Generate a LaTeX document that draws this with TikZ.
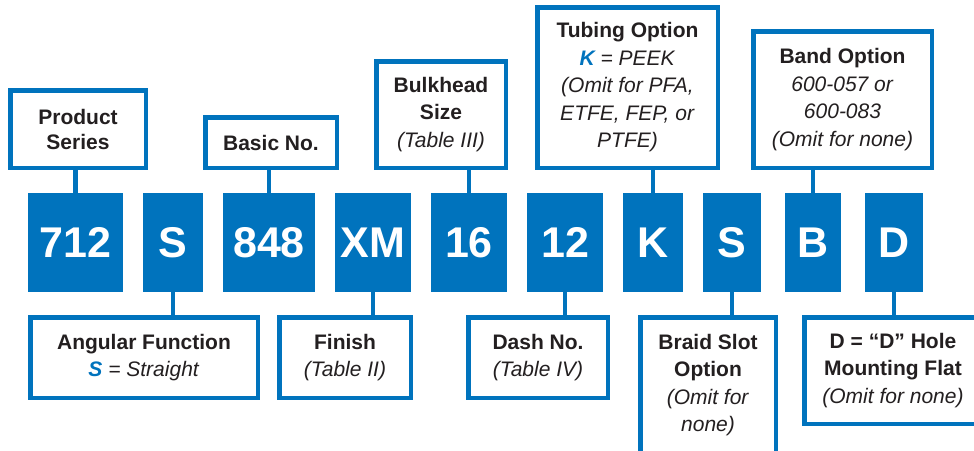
\documentclass[tikz,border=0pt]{standalone}
\usepackage{fontspec}
\setmainfont{Liberation Sans}
\usepackage{tikz}
\usetikzlibrary{positioning,calc}
\definecolor{codeblue}{HTML}{0073BD}
\definecolor{ink}{HTML}{231F20}
\newcommand{\keyletter}[1]{\textcolor{codeblue}{\bfseries\itshape #1}}

\begin{document}
\begin{tikzpicture}[
  x=1pt, y=-1pt,
  codebox/.style={
    fill=codeblue,
    text=white,
    inner sep=0pt,
    outer sep=0pt,
    minimum height=99pt,
    font=\fontsize{43}{43}\selectfont\bfseries,
  },
  labelbox/.style={
    draw=codeblue,
    line width=4.5pt,
    fill=white,
    text=ink,
    align=center,
    inner sep=0pt,
    font=\fontsize{21}{27.5}\selectfont,
  },
  link/.style={draw=codeblue, line width=4.5pt}]
  \useasboundingbox (0,0) rectangle (974,450);
  \clip (0,0) rectangle (974,450);
  % part number boxes
  \node[codebox, minimum width=95pt] (c712) at (75.5,242.5) {712};
  \node[codebox, minimum width=60pt] (cang) at (173,242.5) {S};
  \node[codebox, minimum width=92pt] (c848) at (269,242.5) {848};
  \node[codebox, minimum width=76pt] (cfin) at (373,242.5) {XM};
  \node[codebox, minimum width=76pt] (cbul) at (469,242.5) {16};
  \node[codebox, minimum width=76pt] (cdas) at (565,242.5) {12};
  \node[codebox, minimum width=60pt] (ctub) at (653,242.5) {K};
  \node[codebox, minimum width=58pt] (cbra) at (732,242.5) {S};
  \node[codebox, minimum width=56pt] (cban) at (813,242.5) {B};
  \node[codebox, minimum width=58pt] (chol) at (894,242.5) {D};
  % labels above
  \node[labelbox, minimum width=135.5pt, minimum height=77.5pt,
    font=\fontsize{21}{25}\selectfont] (ser) at (78,129)
    {\textbf{Product}\\\textbf{Series}};
  \node[labelbox, minimum width=131.5pt, minimum height=50.5pt] (bas) at (271,142.5)
    {\textbf{Basic No.}};
  \node[labelbox, minimum width=129.5pt, minimum height=106.5pt] (bul) at (441,114.5)
    {\textbf{Bulkhead}\\\textbf{Size}\\\textit{(Table III)}};
  \node[labelbox, minimum width=180.5pt, minimum height=160.5pt] (tub) at (627.5,87.5)
    {\textbf{Tubing Option}\\\keyletter{K}\textit{ = PEEK}\\\textit{(Omit for PFA,}\\
     \textit{ETFE, FEP, or}\\\textit{PTFE)}};
  \node[labelbox, minimum width=178.5pt, minimum height=136.5pt] (ban) at (842.5,99.5)
    {\textbf{Band Option}\\\textit{600-057 or}\\\textit{600-083}\\\textit{(Omit for none)}};
  % labels below
  \node[labelbox, minimum width=227.5pt, minimum height=80.5pt] (ang) at (144,357.5)
    {\textbf{Angular Function}\\\keyletter{S}\textit{ = Straight}};
  \node[labelbox, minimum width=131.5pt, minimum height=80.5pt] (fin) at (345,357.5)
    {\textbf{Finish}\\\textit{(Table II)}};
  \node[labelbox, minimum width=139.5pt, minimum height=80.5pt] (das) at (538,357.5)
    {\textbf{Dash No.}\\\textit{(Table IV)}};
  \node[labelbox, minimum width=135.5pt, minimum height=135.5pt] (bra) at (708,385)
    {\textbf{Braid Slot}\\\textbf{Option}\\\textit{(Omit for}\\\textit{none)}};
  \node[labelbox, minimum width=177.5pt, minimum height=106.5pt] (hol) at (893,370.5)
    {\textbf{D = “D” Hole}\\\textbf{Mounting Flat}\\\textit{(Omit for none)}};
  % connectors
  \draw[link] (c712.north) -- (c712.north |- ser.south);
  \draw[link] (c848.north) -- (c848.north |- bas.south);
  \draw[link] (cbul.north) -- (cbul.north |- bul.south);
  \draw[link] (ctub.north) -- (ctub.north |- tub.south);
  \draw[link] (cban.north) -- (cban.north |- ban.south);
  \draw[link] (cang.south) -- (cang.south |- ang.north);
  \draw[link] (cfin.south) -- (cfin.south |- fin.north);
  \draw[link] (cdas.south) -- (cdas.south |- das.north);
  \draw[link] (cbra.south) -- (cbra.south |- bra.north);
  \draw[link] (chol.south) -- (chol.south |- hol.north);
\end{tikzpicture}
\end{document}
